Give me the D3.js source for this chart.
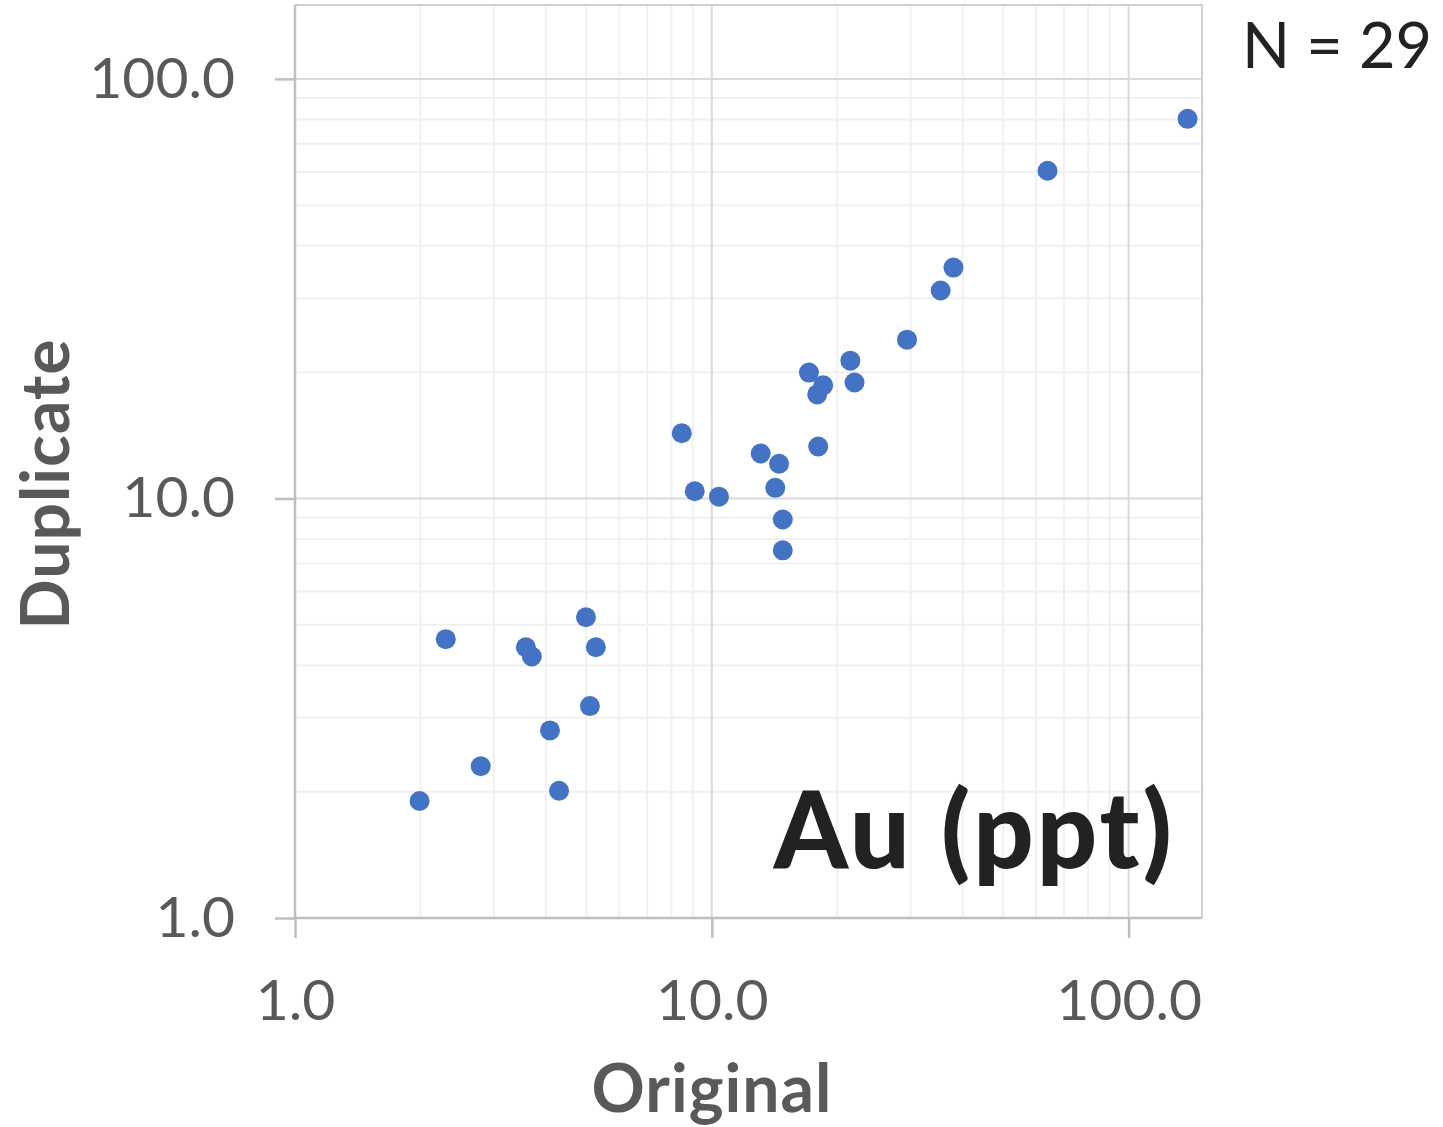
<!DOCTYPE html>
<html>
<head>
    <meta charset="utf-8">
    <title>Au duplicates</title>
    <script src="https://d3js.org/d3.v7.min.js"></script>
    <style>
        body { margin: 0; background: #fff; }
        .tick text { font-family: Lato, sans-serif; font-size: 57px; fill: #595959; }
        .axis-title { font-family: Lato, sans-serif; font-weight: bold; font-size: 66px; fill: #595959; letter-spacing: 1px; }
    </style>
</head>
<body>
    <div id="chart"></div>
    <script>
        // original vs duplicate assays
        const original = [138.5, 63.9, 38.0, 35.4, 29.4, 21.5, 22.0, 17.1, 18.5, 17.9,
                          18.0, 8.47, 13.1, 14.5, 14.2, 9.10, 10.4, 14.8, 14.8, 4.99,
                          2.30, 3.58, 3.70, 5.27, 5.10, 4.09, 2.79, 4.30, 1.99];
        const duplicate = [80.3, 60.4, 35.5, 31.3, 23.9, 21.3, 18.9, 19.95, 18.6, 17.7,
                           13.3, 14.3, 12.8, 12.1, 10.6, 10.4, 10.1, 8.91, 7.52, 5.21,
                           4.62, 4.42, 4.20, 4.42, 3.20, 2.80, 2.30, 2.01, 1.90];
        const majorTicks = [1, 10, 100];
        const domain = [1, 150];

        const width = 1443, height = 1127;
        const margin = {left: 295, top: 5, right: 241, bottom: 209};

        const svg = d3.select("#chart").append("svg")
            .attr("width", width)
            .attr("height", height);

        const x = d3.scaleLog().domain(domain).range([margin.left, width - margin.right]);
        const y = d3.scaleLog().domain(domain).range([height - margin.bottom, margin.top]);

        const minor = [];
        [1, 10, 100].forEach(d => { for (let k = 2; k <= 9; k++) if (d * k <= 150) minor.push(d * k); });

        // minor grid
        svg.append("g").selectAll("line.mx").data(minor).join("line")
            .attr("x1", d => x(d)).attr("x2", d => x(d))
            .attr("y1", y(domain[0])).attr("y2", y(domain[1]))
            .attr("stroke", "#f0f0f0").attr("stroke-width", 2);
        svg.append("g").selectAll("line.my").data(minor).join("line")
            .attr("y1", d => y(d)).attr("y2", d => y(d))
            .attr("x1", x(domain[0])).attr("x2", x(domain[1]))
            .attr("stroke", "#f0f0f0").attr("stroke-width", 2);

        // major grid
        svg.append("g").selectAll("line").data(majorTicks.slice(1)).join("line")
            .attr("x1", d => x(d)).attr("x2", d => x(d))
            .attr("y1", y(domain[0])).attr("y2", y(domain[1]))
            .attr("stroke", "#d9d9d9").attr("stroke-width", 2);
        svg.append("g").selectAll("line").data(majorTicks.slice(1)).join("line")
            .attr("y1", d => y(d)).attr("y2", d => y(d))
            .attr("x1", x(domain[0])).attr("x2", x(domain[1]))
            .attr("stroke", "#d9d9d9").attr("stroke-width", 2);

        // plot border (top and right)
        svg.append("path")
            .attr("d", `M${x(domain[0])},${y(domain[1])}H${x(domain[1])}V${y(domain[0])}`)
            .attr("fill", "none").attr("stroke", "#d0d0d0").attr("stroke-width", 2);

        const fmt = d3.format(".1f");

        const xAxis = svg.append("g")
            .attr("transform", `translate(0,${y(domain[0])})`)
            .call(d3.axisBottom(x).tickValues(majorTicks).tickFormat(fmt).tickSize(20).tickPadding(42));
        const yAxis = svg.append("g")
            .attr("transform", `translate(${x(domain[0])},0)`)
            .call(d3.axisLeft(y).tickValues(majorTicks).tickFormat(fmt).tickSize(20).tickPadding(40));

        [xAxis, yAxis].forEach(g => {
            g.select(".domain").attr("stroke", "#bfbfbf").attr("stroke-width", 2.5);
            g.selectAll(".tick line").attr("stroke", "#bfbfbf").attr("stroke-width", 2.5);
            g.attr("font-family", null).attr("font-size", null);
        });
        xAxis.select(".domain").attr("d", `M${x(domain[0])},0H${x(domain[1])}`);
        yAxis.select(".domain").attr("d", `M0,${y(domain[0])}V${y(domain[1])}`);

        // points
        svg.append("g").selectAll("circle").data(original).join("circle")
            .attr("cx", d => x(d))
            .attr("cy", (d, i) => y(duplicate[i]))
            .attr("r", 10)
            .attr("fill", "#4472c4");

        // titles
        svg.append("text").attr("class", "axis-title")
            .attr("x", 712).attr("y", 1112)
            .attr("text-anchor", "middle").text("Original");
        svg.append("text").attr("class", "axis-title")
            .attr("transform", "translate(69,484) rotate(-90)")
            .attr("text-anchor", "middle").text("Duplicate");

        svg.append("text")
            .attr("x", 1175).attr("y", 868)
            .attr("text-anchor", "end")
            .style("font-family", "Lato, sans-serif").style("font-weight", "900")
            .style("font-size", "106px").style("fill", "#222")
            .style("letter-spacing", "3px")
            .text("Au (ppt)");

        svg.append("text")
            .attr("x", 1432).attr("y", 68)
            .attr("text-anchor", "end")
            .style("font-family", "Lato, sans-serif")
            .style("font-size", "63px").style("fill", "#222")
            .text("N = " + original.length);
    </script>
</body>
</html>
